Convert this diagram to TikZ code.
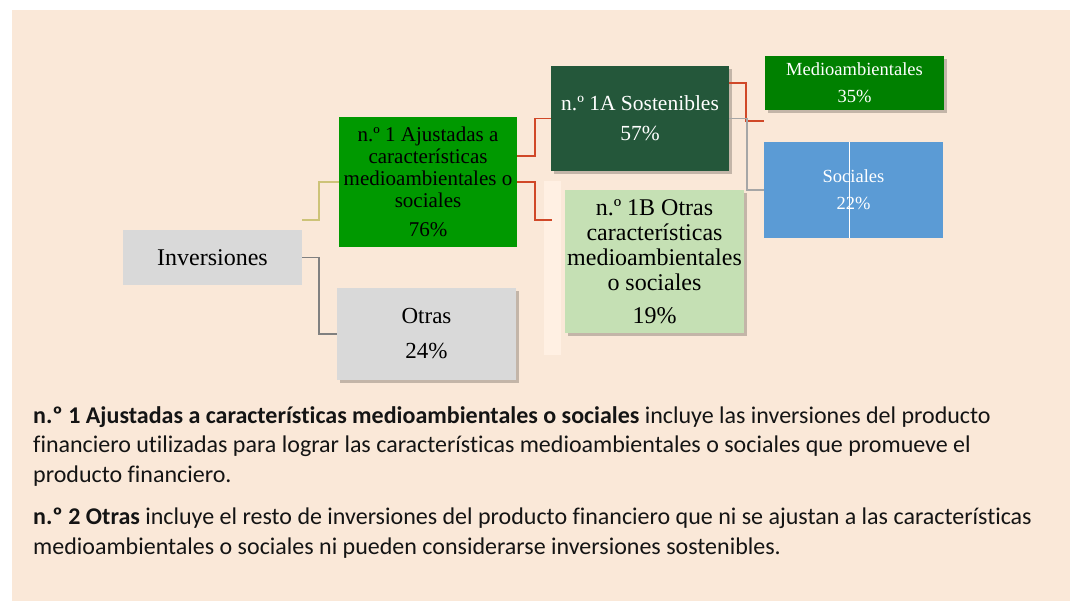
\documentclass[tikz,border=0pt]{standalone}
\usepackage{fontspec}
\setmainfont{Liberation Serif}
\newfontfamily\bodyfont[Ligatures=NoCommon]{Carlito}
\usetikzlibrary{shadows}
\definecolor{panel}{RGB}{250,232,216}
\definecolor{palebox}{RGB}{255,240,227}
\definecolor{cgray}{RGB}{217,217,217}
\definecolor{cnone}{RGB}{0,153,0}
\definecolor{cnonea}{RGB}{36,87,58}
\definecolor{cnoneb}{RGB}{197,224,180}
\definecolor{cmed}{RGB}{0,128,0}
\definecolor{csoc}{RGB}{91,155,213}
\definecolor{lolive}{RGB}{205,195,120}
\definecolor{lred}{RGB}{208,72,40}
\definecolor{lgray}{RGB}{128,128,128}
\definecolor{llgray}{RGB}{166,166,166}
\definecolor{txt}{RGB}{20,20,20}
\begin{document}
\begin{tikzpicture}[x=1pt,y=-1pt,
  box/.style={rectangle, inner sep=0pt, align=center, text=black},
  sh/.style={drop shadow={shadow xshift=2.5pt, shadow yshift=-3pt, opacity=0.22, fill=black}},
  conn/.style={line width=1.5pt},
  bodyline/.style={anchor=base west, inner sep=0pt, text=txt, font=\bodyfont\fontsize{24}{30}\selectfont}
]
\useasboundingbox (0,0) rectangle (1075,601);
\fill[panel] (12,10) rectangle (1070,601);
\fill[palebox] (544,181) rectangle (561,355);

\node[box, fill=cgray, minimum width=179pt, minimum height=55pt,
  font=\fontsize{24}{26}\selectfont] (inv) at (212.5,257.5) {Inversiones};
\node[box, fill=cnone, minimum width=178pt, minimum height=130pt,
  font=\fontsize{21}{22}\selectfont] (n1) at (428,182)
  {n.º 1 Ajustadas a\\características\\medioambientales o\\sociales\\[7pt]76\%};
\node[box, sh, fill=cgray, minimum width=179pt, minimum height=92pt,
  font=\fontsize{23}{35}\selectfont] (otras) at (426.5,334) {Otras\\24\%};
\node[box, sh, fill=cnonea, text=white, minimum width=178pt, minimum height=105pt,
  font=\fontsize{21.5}{30}\selectfont] (s1a) at (640,118.5) {n.º 1A Sostenibles\\57\%};
\node[box, sh, fill=cnoneb, minimum width=179pt, minimum height=143pt,
  font=\fontsize{24}{25}\selectfont] (s1b) at (654.5,261.5)
  {n.º 1B Otras\\características\\medioambientales\\o sociales\\[8pt]19\%};
\node[box, sh, fill=cmed, text=white, minimum width=179pt, minimum height=54pt,
  font=\fontsize{18.5}{27}\selectfont] (med) at (854.5,83) {Medioambientales\\35\%};
\node[box, fill=csoc, text=white, minimum width=179pt, minimum height=96pt,
  font=\fontsize{18.5}{27}\selectfont] (soc) at (853.5,190) {Sociales\\22\%};
\draw[white, line width=1pt] ([xshift=-4.5pt]soc.north) -- ([xshift=-4.5pt]soc.south);

\draw[conn, lolive] ([yshift=10pt]inv.north east) -- ++(17,0) |- (n1.west);
\draw[conn, lgray] (inv.east) -- ++(17,0) |- (otras.west);
\draw[conn, lred] ([yshift=26pt]n1.east) -- ++(18,0) |- (s1a.west);
\draw[conn, lred] (n1.east) -- ++(18,0) |- ([xshift=-13pt,yshift=41.5pt]s1b.west);
\draw[conn, lred] ([yshift=35.5pt]s1a.east) -- ++(17,0) |- ([xshift=-1pt,yshift=-38pt]med.west);
\draw[conn, llgray] (s1a.east) -- ++(18,0) |- (soc.west);

\node[bodyline] (l1) at (33,423) {\textbf{n.º 1 Ajustadas a características medioambientales o sociales} incluye las inversiones del producto};
\node[bodyline] (l2) at (33,452.5) {financiero utilizadas para lograr las características medioambientales o sociales que promueve el};
\node[bodyline] (l3) at (33,482) {producto financiero.};
\node[bodyline] (l4) at (33,524.5) {\textbf{n.º 2 Otras} incluye el resto de inversiones del producto financiero que ni se ajustan a las características};
\node[bodyline] (l5) at (33,554.5) {medioambientales o sociales ni pueden considerarse inversiones sostenibles.};
\end{tikzpicture}
\end{document}
